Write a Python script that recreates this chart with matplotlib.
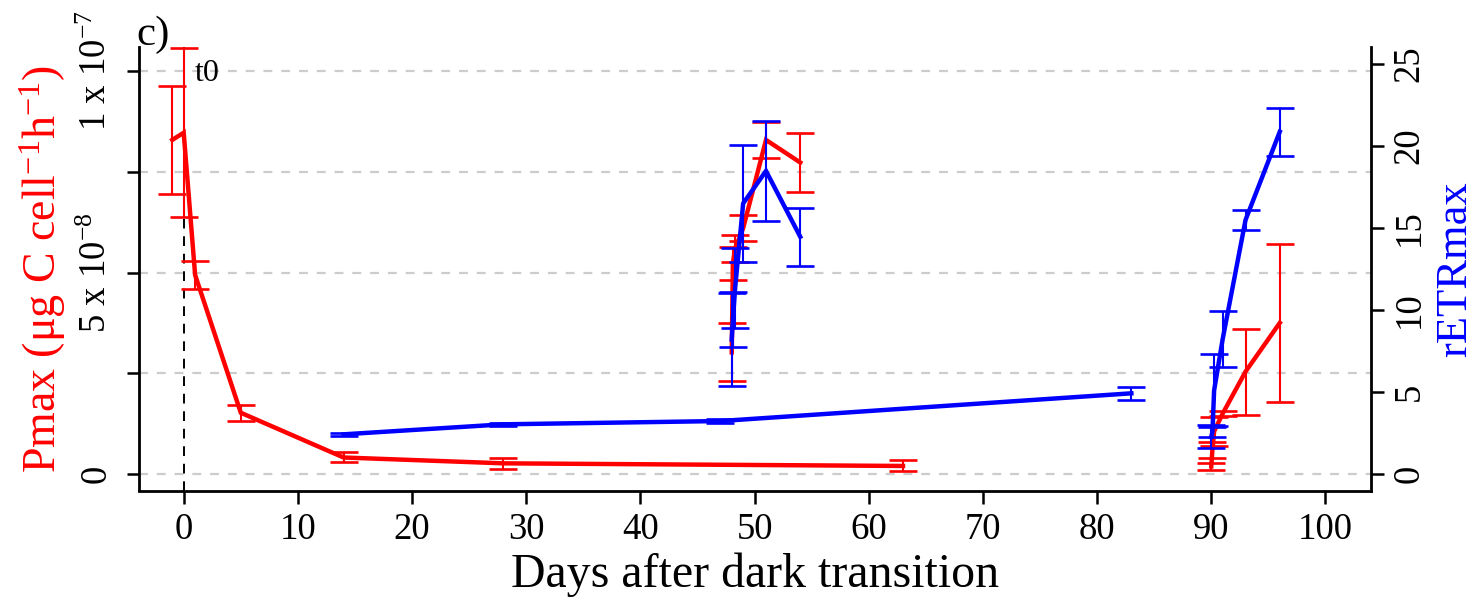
import matplotlib
matplotlib.use('Agg')
import matplotlib.pyplot as plt
from matplotlib.ticker import FixedLocator, FixedFormatter

plt.rcParams['font.family'] = ['Liberation Serif', 'DejaVu Serif']
plt.rcParams['mathtext.fontset'] = 'custom'
plt.rcParams['mathtext.rm'] = 'Liberation Serif'
plt.rcParams['mathtext.it'] = 'Liberation Serif:italic'
plt.rcParams['mathtext.bf'] = 'Liberation Serif:bold'

# ---------------- data ----------------
# Pmax (left axis), ug C cell-1 h-1
pmax_dark_days = [-1, 0, 1, 5, 14, 28, 63]
pmax_dark = [8.29e-8, 8.47e-8, 4.94e-8, 1.52e-8, 0.41e-8, 0.265e-8, 0.20e-8]
pmax_dark_err = [1.35e-8, 2.10e-8, 0.35e-8, 0.20e-8, 0.124e-8, 0.136e-8, 0.136e-8]

pmax_rec1_days = [48.0, 48.1, 48.3, 49.0, 51.0, 54.0]
pmax_rec1 = [3.02e-8, 5.23e-8, 5.60e-8, 6.10e-8, 8.29e-8, 7.73e-8]
pmax_rec1_err = [0.72e-8, 0.41e-8, 0.33e-8, 0.33e-8, 0.45e-8, 0.74e-8]

pmax_rec2_days = [90.0, 90.1, 90.25, 91.0, 93.0, 96.0]
pmax_rec2 = [0.19e-8, 0.60e-8, 1.06e-8, 1.50e-8, 2.54e-8, 3.75e-8]
pmax_rec2_err = [0.09e-8, 0.20e-8, 0.36e-8, 0.07e-8, 1.07e-8, 1.96e-8]

# rETRmax (right axis)
retr_dark_days = [14, 28, 47, 83]
retr_dark = [2.42, 3.03, 3.23, 4.92]
retr_dark_err = [0.10, 0.08, 0.12, 0.40]

retr_rec1_days = [48.0, 48.1, 48.3, 49.0, 51.0, 54.0]
retr_rec1 = [8.2, 9.4, 11.36, 16.5, 18.48, 14.47]
retr_rec1_err = [2.84, 1.67, 2.44, 3.58, 3.03, 1.76]

retr_rec2_days = [90.0, 90.1, 90.25, 91.0, 93.0, 96.0]
retr_rec2 = [2.26, 2.56, 5.1, 8.23, 15.49, 20.87]
retr_rec2_err = [0.70, 0.33, 2.2, 1.73, 0.63, 1.45]

x_ticks = [0, 10, 20, 30, 40, 50, 60, 70, 80, 90, 100]
left_ticks = [0, 2.5e-8, 5e-8, 7.5e-8, 1e-7]
left_labels = ['0', '', r'5 x 10$^{-8}$', '', r'1 x 10$^{-7}$']
right_ticks = [0, 5, 10, 15, 20, 25]

RED = '#ff0000'
BLUE = '#0000ff'

fig = plt.figure(figsize=(14.84, 5.98), dpi=100)
W, H = 1484, 598
ax = fig.add_axes([139 / W, 1 - 490.5 / H, (1371 - 139) / W, (490.5 - 47) / H])
ax2 = ax.twinx()

ax.set_xlim(-3.915, 103.99)
ax.set_ylim(-0.0409e-7, 1.0596e-7)
ax2.set_ylim(-1.006, 26.04)

# grid
for t in left_ticks:
    ax.axhline(t, color='#cccccc', lw=1.6, ls=(0, (4, 4)), zorder=0)
ax.axvline(0, color='black', lw=1.4, ls=(0, (5, 4)), zorder=1)

ekw = dict(fmt='none', elinewidth=1.5, capsize=10, capthick=1.9, zorder=2)

for d, v, e in [(pmax_dark_days, pmax_dark, pmax_dark_err),
                (pmax_rec1_days, pmax_rec1, pmax_rec1_err),
                (pmax_rec2_days, pmax_rec2, pmax_rec2_err)]:
    ax.errorbar(d, v, yerr=e, ecolor=RED, **ekw)
    ax.plot(d, v, color=RED, lw=3.2, zorder=3, solid_joinstyle='miter')

for d, v, e in [(retr_dark_days, retr_dark, retr_dark_err),
                (retr_rec1_days, retr_rec1, retr_rec1_err),
                (retr_rec2_days, retr_rec2, retr_rec2_err)]:
    ax2.errorbar(d, v, yerr=e, ecolor=BLUE, **ekw)
    ax2.plot(d, v, color=BLUE, lw=3.2, zorder=3, solid_joinstyle='miter')

# axes styling
ax.spines['top'].set_visible(False)
ax2.spines['top'].set_visible(False)
ax.spines['right'].set_visible(False)
for s in ['left', 'bottom']:
    ax.spines[s].set_linewidth(2.0)
ax2.spines['right'].set_linewidth(2.0)
ax2.spines['left'].set_visible(False)
ax2.spines['bottom'].set_visible(False)

ax.xaxis.set_major_locator(FixedLocator(x_ticks))
ax.set_xticklabels([str(t) for t in x_ticks])
ax.yaxis.set_major_locator(FixedLocator(left_ticks))
ax.yaxis.set_major_formatter(FixedFormatter(left_labels))
ax2.yaxis.set_major_locator(FixedLocator(right_ticks))
ax2.set_yticklabels([str(t) for t in right_ticks])

ax.tick_params(axis='x', direction='out', length=9, width=1.8, labelsize=26.5, pad=7)
ax.tick_params(axis='y', direction='out', length=9, width=1.8, labelsize=26.5, pad=9,
               labelrotation=90)
ax2.tick_params(axis='y', direction='out', length=9, width=1.8, labelsize=26.5, pad=6,
                labelrotation=90)
for lab in ax.get_yticklabels():
    lab.set_va('center')
for lab in ax2.get_yticklabels():
    lab.set_va('center')

ax.set_xlabel('Days after dark transition', fontsize=34.5, labelpad=4)
ax.set_ylabel(r'Pmax (μg C cell$^{-1}$h$^{-1}$)', fontsize=33, color=RED, labelpad=8)
ax2.set_ylabel('rETRmax', fontsize=32, color=BLUE, labelpad=6)

ax.text(1.0, 0.975e-7, 't0', fontsize=23, ha='left', va='baseline', zorder=5)
fig.text(136 / W, 1 - 45 / H, 'c)', fontsize=31, ha='left', va='baseline')

fig.savefig('out.png', dpi=100)
